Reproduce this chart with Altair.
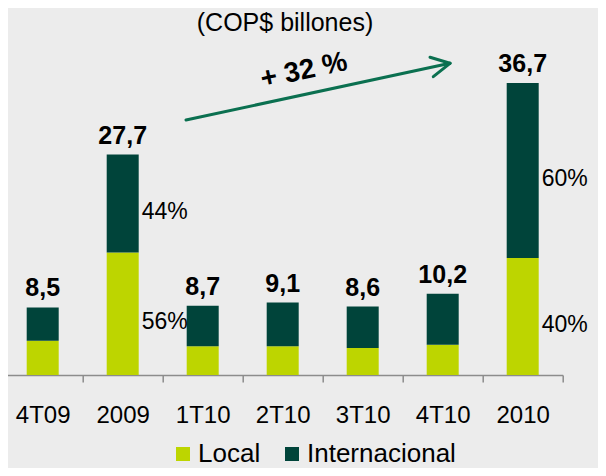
import altair as alt
import pandas as pd

# ---------------- data ----------------
categories = ["4T09", "2009", "1T10", "2T10", "3T10", "4T10", "2010"]
totals = [8.5, 27.7, 8.7, 9.1, 8.6, 10.2, 36.7]
local_vals = [4.3, 15.4, 3.6, 3.6, 3.4, 3.8, 14.7]
series_names = ["Local", "Internacional"]
series_colors = ["#BDD500", "#00443A"]
total_labels = ["8,5", "27,7", "8,7", "9,1", "8,6", "10,2", "36,7"]
pct_categories = ["2009", "2009", "2010", "2010"]
pct_series = ["Internacional", "Local", "Internacional", "Local"]
pct_texts = ["44%", "56%", "60%", "40%"]
title_text = "(COP$ billones)"
growth_text = "+ 32 %"

FONT = "Liberation Sans"
BG = "#ECECEC"
ARROW = "#0B7050"
AXIS_GRAY = "#8C8C8C"

# ---------------- tables ----------------
rows = []
for c, t, l in zip(categories, totals, local_vals):
    rows.append({"cat": c, "series": "Local", "start": 0.0, "end": l, "ord": 0})
    rows.append({"cat": c, "series": "Internacional", "start": l, "end": t, "ord": 1})
bars_df = pd.DataFrame(rows)

tot_df = pd.DataFrame({"cat": categories, "total": totals, "label": total_labels})

seg = bars_df.set_index(["cat", "series"])
pct_df = pd.DataFrame({"cat": pct_categories, "series": pct_series, "text": pct_texts})
pct_df["mid"] = [
    (seg.loc[(c, s), "start"] + seg.loc[(c, s), "end"]) / 2
    for c, s in zip(pct_categories, pct_series)
]

anno = pd.DataFrame({"k": [0]})

# ---------------- layout ----------------
TOTAL_W = 590
TOTAL_H = 460
PAD_L = -5.3
PLOT_W = 560
PLOT_H = 367
OX = -PAD_L  # shift for pixel-placed annotations
y_scale = alt.Scale(domain=[0, 46.13], nice=False, zero=True)
x_scale = alt.Scale(paddingInner=0, paddingOuter=0)

x_enc = alt.X(
    "cat:N",
    sort=categories,
    scale=x_scale,
    axis=alt.Axis(
        title=None,
        labelAngle=0,
        labelFontSize=24,
        labelFont=FONT,
        labelColor="black",
        labelPadding=21,
        domainColor=AXIS_GRAY,
        domainWidth=1.5,
        tickColor=AXIS_GRAY,
        tickWidth=1.5,
        tickSize=7,
        tickBand="extent",
    ),
)

bars = alt.Chart(bars_df).mark_bar(width=alt.RelativeBandSize(0.4)).encode(
    x=x_enc,
    y=alt.Y("start:Q", scale=y_scale, axis=None),
    y2="end:Q",
    color=alt.Color(
        "series:N",
        scale=alt.Scale(domain=series_names, range=series_colors),
        legend=alt.Legend(
            title=None,
            orient="none",
            legendX=162 + OX,
            legendY=433,
            direction="horizontal",
            columns=2,
            symbolType="square",
            symbolSize=196,
            symbolStrokeWidth=0,
            symbolOpacity=1,
            labelFontSize=26,
            labelFont=FONT,
            labelColor="black",
            labelOffset=2,
            labelLimit=300,
            columnPadding=18,
            padding=0,
        ),
    ),
    order=alt.Order("ord:Q"),
)

tot_text = alt.Chart(tot_df).mark_text(
    font=FONT, fontSize=25, fontWeight="bold", color="black",
    baseline="alphabetic", dy=-11,
).encode(
    x=alt.X("cat:N", sort=categories, scale=x_scale),
    y=alt.Y("total:Q", scale=y_scale),
    text="label:N",
)

pct_text = alt.Chart(pct_df).mark_text(
    font=FONT, fontSize=23, color="black", align="left",
    baseline="middle", dx=19, dy=8,
).encode(
    x=alt.X("cat:N", sort=categories, scale=x_scale),
    y=alt.Y("mid:Q", scale=y_scale),
    text="text:N",
)

title = alt.Chart(anno).mark_text(
    font=FONT, fontSize=25, color="black", align="center", baseline="alphabetic",
    text=title_text,
).encode(x=alt.value(277 + OX), y=alt.value(22.5))

growth = alt.Chart(anno).mark_text(
    font=FONT, fontSize=28, fontWeight="bold", color="black", align="center",
    baseline="middle", angle=348, text=growth_text,
).encode(x=alt.value(296 + OX), y=alt.value(63))

def seg_rule(x1, y1, x2, y2):
    return alt.Chart(anno).mark_rule(
        color=ARROW, strokeWidth=3, strokeCap="round"
    ).encode(x=alt.value(x1 + OX), y=alt.value(y1), x2=alt.value(x2 + OX), y2=alt.value(y2))

shaft = seg_rule(178, 112, 442, 55.3)
arm1 = seg_rule(422, 49.3, 442, 55.3)
arm2 = seg_rule(425.3, 68.7, 442, 55.3)

chart = alt.layer(
    bars, tot_text, pct_text, title, growth, shaft, arm1, arm2
).properties(
    width=PLOT_W,
    height=PLOT_H,
    autosize="none",
    padding={"left": PAD_L, "top": 0, "right": TOTAL_W - PLOT_W - PAD_L, "bottom": TOTAL_H - PLOT_H},
    background=BG,
).configure_view(stroke=None)

chart.save("out.html", embed_options={"renderer": "svg", "actions": False})
